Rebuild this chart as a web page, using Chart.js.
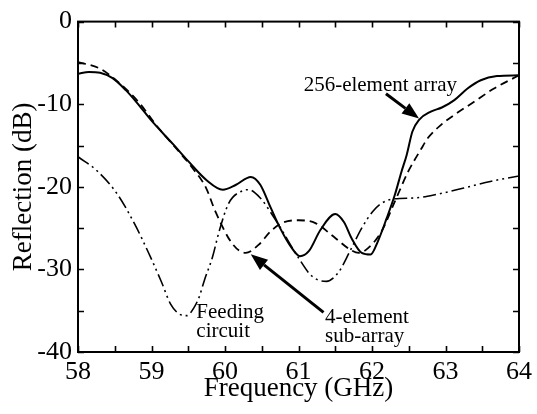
<!DOCTYPE html>
<html>
<head>
<meta charset="utf-8">
<script src="https://cdn.jsdelivr.net/npm/chart.js@4/dist/chart.umd.min.js"></script>
<style>
  html, body { margin: 0; padding: 0; background: #fff; }
  canvas { display: block; }
</style>
</head>
<body>
<canvas id="chart" width="537" height="414"></canvas>
<script>
// Reflection of the 256-element array, the 4-element sub-array and the feeding circuit
const freq256 = [58.0, 58.15, 58.3, 58.47, 58.65, 58.8, 59.0, 59.3, 59.5, 59.75, 59.97, 60.15, 60.35, 60.48, 60.62, 60.75, 60.9, 61.02, 61.14, 61.3, 61.5, 61.62, 61.72, 61.86, 61.98, 62.08, 62.2, 62.31, 62.4, 62.47, 62.55, 62.64, 62.8, 62.95, 63.12, 63.3, 63.48, 63.7, 64.0];
const refl256 = [-6.3, -6.1, -6.2, -6.85, -8.3, -9.8, -12.0, -14.9, -16.9, -19.2, -20.35, -19.75, -18.8, -19.75, -22.5, -25.0, -27.3, -28.4, -27.8, -25.2, -23.3, -24.3, -26.2, -28.0, -28.2, -26.6, -23.8, -21.0, -18.2, -16.2, -13.3, -11.9, -10.9, -10.4, -9.5, -8.1, -7.1, -6.6, -6.5];

const freqSub = [58.0, 58.3, 58.57, 58.84, 59.06, 59.33, 59.56, 59.74, 59.87, 60.1, 60.28, 60.46, 60.62, 60.77, 61.0, 61.23, 61.5, 61.72, 61.82, 61.95, 62.13, 62.31, 62.49, 62.67, 62.76, 62.94, 63.12, 63.39, 63.66, 64.0];
const reflSub = [-4.9, -5.7, -7.5, -9.9, -12.5, -15.3, -17.75, -20.1, -23.0, -26.9, -28.0, -27.0, -25.4, -24.4, -24.05, -24.4, -26.2, -27.7, -28.0, -27.4, -25.4, -21.8, -18.2, -15.4, -14.1, -12.5, -11.3, -9.7, -8.1, -6.5];

const freqFeed = [58.0, 58.27, 58.54, 58.77, 58.95, 59.13, 59.26, 59.4, 59.48, 59.58, 59.65, 59.72, 59.83, 59.92, 60.05, 60.23, 60.32, 60.48, 60.64, 60.73, 61.0, 61.18, 61.38, 61.54, 61.7, 61.86, 62.01, 62.13, 62.31, 62.58, 62.89, 63.25, 63.61, 64.0];
const reflFeed = [-16.35, -18.15, -20.95, -24.5, -27.8, -31.4, -34.2, -35.5, -35.6, -34.6, -33.3, -31.3, -28.5, -25.4, -22.0, -20.5, -20.35, -21.35, -23.35, -24.6, -28.6, -30.8, -31.45, -30.4, -27.8, -25.0, -23.0, -22.0, -21.45, -21.35, -20.9, -20.15, -19.35, -18.7];

const xTickLabels = [58, 59, 60, 61, 62, 63, 64];
const yTickLabels = [0, -10, -20, -30, -40];

// callouts in data units: text anchored at its left edge, arrows tail -> head
const callouts = [
  { lines: ['256-element array'], x: 61.07, y: -7.7 },
  { lines: ['Feeding', 'circuit'], x: 59.61, y: -35.2 },
  { lines: ['4-element', 'sub-array'], x: 61.36, y: -35.8 }
];
const arrows = [
  { from: [62.19, -8.74], to: [62.64, -11.74] },
  { from: [61.34, -35.2], to: [60.35, -28.16] }
];

const FONT = 'Liberation Serif';

function toPoints(xs, ys) {
  return xs.map((x, i) => ({ x: x, y: ys[i] }));
}

// box with inward ticks on all four sides
const framePlugin = {
  id: 'frame',
  afterDraw(chart) {
    const { ctx, chartArea: a, scales } = chart;
    const len = 6;
    ctx.save();
    ctx.strokeStyle = '#000';
    ctx.lineWidth = 1.6;
    ctx.beginPath();
    scales.x.ticks.forEach(t => {
      const px = Math.round(scales.x.getPixelForValue(t.value)) + 0.5;
      ctx.moveTo(px, a.bottom); ctx.lineTo(px, a.bottom - len);
      ctx.moveTo(px, a.top); ctx.lineTo(px, a.top + len);
    });
    scales.y.ticks.forEach(t => {
      const py = Math.round(scales.y.getPixelForValue(t.value)) + 0.5;
      ctx.moveTo(a.left, py); ctx.lineTo(a.left + len, py);
      ctx.moveTo(a.right, py); ctx.lineTo(a.right - len, py);
    });
    ctx.stroke();
    ctx.lineWidth = 2;
    ctx.strokeRect(a.left, a.top, a.right - a.left, a.bottom - a.top);
    ctx.restore();
  }
};

const calloutPlugin = {
  id: 'callouts',
  afterDraw(chart) {
    const { ctx, scales } = chart;
    const sx = v => scales.x.getPixelForValue(v);
    const sy = v => scales.y.getPixelForValue(v);
    ctx.save();
    ctx.fillStyle = '#000';
    ctx.font = '21px "' + FONT + '"';
    ctx.textAlign = 'left';
    ctx.textBaseline = 'middle';
    callouts.forEach(c => {
      c.lines.forEach((line, i) => {
        ctx.fillText(line, sx(c.x), sy(c.y) + i * 19);
      });
    });
    arrows.forEach(ar => {
      const x0 = sx(ar.from[0]), y0 = sy(ar.from[1]);
      const x1 = sx(ar.to[0]), y1 = sy(ar.to[1]);
      const ang = Math.atan2(y1 - y0, x1 - x0);
      const head = 17, half = 6.5;
      const bx = x1 - head * Math.cos(ang), by = y1 - head * Math.sin(ang);
      ctx.strokeStyle = '#000';
      ctx.lineWidth = 3;
      ctx.beginPath();
      ctx.moveTo(x0, y0);
      ctx.lineTo(bx, by);
      ctx.stroke();
      ctx.beginPath();
      ctx.moveTo(x1, y1);
      ctx.lineTo(bx + half * Math.sin(ang), by - half * Math.cos(ang));
      ctx.lineTo(bx - half * Math.sin(ang), by + half * Math.cos(ang));
      ctx.closePath();
      ctx.fill();
    });
    ctx.restore();
  }
};

const ctx = document.getElementById('chart').getContext('2d');
new Chart(ctx, {
  type: 'line',
  data: {
    datasets: [
      {
        label: '256-element array',
        data: toPoints(freq256, refl256),
        borderColor: '#000',
        borderWidth: 2,
        fill: false
      },
      {
        label: '4-element sub-array',
        data: toPoints(freqSub, reflSub),
        borderColor: '#000',
        borderWidth: 1.8,
        borderDash: [8, 5],
        fill: false
      },
      {
        label: 'Feeding circuit',
        data: toPoints(freqFeed, reflFeed),
        borderColor: '#000',
        borderWidth: 1.6,
        borderDash: [13, 4, 2, 4, 2, 4],
        fill: false
      }
    ]
  },
  options: {
    responsive: false,
    animation: false,
    layout: { padding: { top: 19, right: 15, left: 0, bottom: 0 } },
    elements: {
      point: { radius: 0 },
      line: { cubicInterpolationMode: 'monotone' }
    },
    plugins: {
      legend: { display: false },
      tooltip: { enabled: false }
    },
    scales: {
      x: {
        type: 'linear',
        min: 58,
        max: 64,
        grid: { display: false, drawTicks: false },
        border: { display: false },
        ticks: {
          stepSize: 0.5,
          autoSkip: false,
          maxRotation: 0,
          padding: 5,
          color: '#000',
          font: { family: FONT, size: 26 },
          callback: v => xTickLabels.includes(v) ? String(v) : ''
        },
        title: {
          display: true,
          text: 'Frequency (GHz)',
          color: '#000',
          font: { family: FONT, size: 27 },
          padding: { top: 0, bottom: 9 }
        },
        afterFit: s => { s.height = 62; }
      },
      y: {
        min: -40,
        max: 0,
        grid: { display: false, drawTicks: false },
        border: { display: false },
        ticks: {
          stepSize: 5,
          autoSkip: false,
          padding: 6,
          color: '#000',
          font: { family: FONT, size: 26 },
          callback: v => yTickLabels.includes(v) ? String(v) : ''
        },
        title: {
          display: true,
          text: 'Reflection (dB)',
          color: '#000',
          font: { family: FONT, size: 27 },
          padding: { top: 8, bottom: 0 }
        },
        afterFit: s => { s.width = 78; }
      }
    }
  },
  plugins: [framePlugin, calloutPlugin]
});
</script>
</body>
</html>
